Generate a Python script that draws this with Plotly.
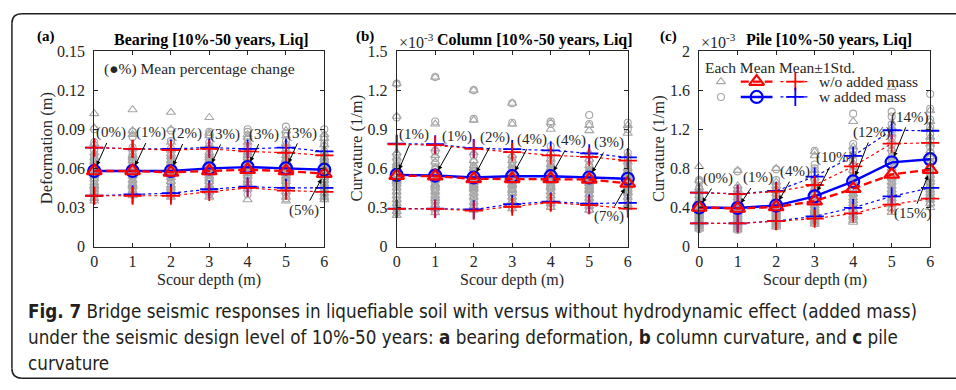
import plotly.graph_objects as go

W, H = 956, 390
depths = [0, 1, 2, 3, 4, 5, 6]

# ---------------- Panel (a) Bearing deformation (m) ----------------
a_mean_wo = [0.058, 0.058, 0.057, 0.058, 0.059, 0.058, 0.056]
a_mean_w = [0.058, 0.058, 0.058, 0.060, 0.061, 0.060, 0.059]
a_up_wo = [0.076, 0.075, 0.074, 0.075, 0.073, 0.072, 0.070]
a_up_w = [0.076, 0.075, 0.075, 0.076, 0.075, 0.076, 0.073]
a_lo_wo = [0.039, 0.039, 0.039, 0.042, 0.045, 0.043, 0.042]
a_lo_w = [0.039, 0.040, 0.041, 0.044, 0.046, 0.045, 0.045]
a_pct = ["(0%)", "(1%)", "(2%)", "(3%)", "(3%)", "(3%)", "(5%)"]
a_each_wo = [
    [0.102, 0.091, 0.079, 0.072, 0.068, 0.065, 0.062, 0.060, 0.058, 0.056, 0.054, 0.052, 0.049, 0.046, 0.044, 0.042, 0.040, 0.037, 0.035, 0.047],
    [0.105, 0.089, 0.086, 0.075, 0.070, 0.066, 0.063, 0.060, 0.058, 0.056, 0.054, 0.051, 0.048, 0.046, 0.043, 0.041, 0.039, 0.047, 0.062, 0.068],
    [0.103, 0.090, 0.080, 0.074, 0.069, 0.066, 0.063, 0.060, 0.057, 0.055, 0.053, 0.050, 0.047, 0.045, 0.043, 0.041, 0.038, 0.059, 0.064, 0.071],
    [0.099, 0.087, 0.085, 0.078, 0.072, 0.068, 0.064, 0.061, 0.058, 0.056, 0.054, 0.052, 0.050, 0.047, 0.045, 0.042, 0.038, 0.060, 0.066, 0.070],
    [0.086, 0.084, 0.080, 0.076, 0.072, 0.068, 0.065, 0.062, 0.060, 0.058, 0.056, 0.054, 0.051, 0.049, 0.046, 0.044, 0.036, 0.063, 0.070, 0.057],
    [0.089, 0.085, 0.079, 0.074, 0.070, 0.066, 0.063, 0.060, 0.058, 0.056, 0.054, 0.052, 0.050, 0.047, 0.045, 0.042, 0.035, 0.038, 0.061, 0.067],
    [0.086, 0.083, 0.078, 0.072, 0.068, 0.064, 0.061, 0.059, 0.057, 0.055, 0.053, 0.051, 0.048, 0.046, 0.044, 0.041, 0.038, 0.036, 0.060, 0.066],
]
a_each_w = [
    [0.090, 0.080, 0.074, 0.070, 0.066, 0.063, 0.061, 0.059, 0.057, 0.055, 0.053, 0.051, 0.048, 0.045, 0.043, 0.041, 0.038, 0.036, 0.062, 0.068],
    [0.088, 0.084, 0.076, 0.071, 0.067, 0.064, 0.061, 0.059, 0.057, 0.055, 0.053, 0.050, 0.047, 0.044, 0.042, 0.040, 0.060, 0.065, 0.069, 0.049],
    [0.089, 0.081, 0.075, 0.070, 0.067, 0.064, 0.061, 0.059, 0.057, 0.055, 0.053, 0.050, 0.048, 0.046, 0.043, 0.040, 0.039, 0.062, 0.066, 0.058],
    [0.088, 0.086, 0.080, 0.075, 0.071, 0.068, 0.065, 0.062, 0.060, 0.058, 0.056, 0.053, 0.050, 0.048, 0.045, 0.042, 0.040, 0.063, 0.067, 0.061],
    [0.090, 0.088, 0.082, 0.077, 0.073, 0.069, 0.066, 0.063, 0.061, 0.059, 0.057, 0.055, 0.052, 0.050, 0.047, 0.045, 0.040, 0.064, 0.071, 0.058],
    [0.092, 0.087, 0.081, 0.076, 0.071, 0.067, 0.064, 0.061, 0.059, 0.057, 0.055, 0.053, 0.051, 0.048, 0.046, 0.043, 0.037, 0.040, 0.062, 0.068],
    [0.090, 0.084, 0.079, 0.073, 0.069, 0.065, 0.062, 0.060, 0.058, 0.056, 0.054, 0.052, 0.049, 0.047, 0.045, 0.042, 0.039, 0.037, 0.061, 0.067],
]

# ---------------- Panel (b) Column curvature (x1e-3 1/m) ----------------
b_mean_wo = [0.545, 0.540, 0.520, 0.520, 0.520, 0.515, 0.485]
b_mean_w = [0.550, 0.545, 0.530, 0.540, 0.540, 0.530, 0.520]
b_up_wo = [0.785, 0.778, 0.750, 0.725, 0.700, 0.688, 0.660]
b_up_w = [0.790, 0.785, 0.755, 0.748, 0.738, 0.715, 0.685]
b_lo_wo = [0.290, 0.290, 0.276, 0.306, 0.338, 0.318, 0.292]
b_lo_w = [0.292, 0.292, 0.285, 0.326, 0.345, 0.330, 0.336]
b_pct = ["(1%)", "(1%)", "(2%)", "(4%)", "(4%)", "(3%)", "(7%)"]
b_each_wo = [
    [1.25, 1.00, 0.72, 0.68, 0.64, 0.60, 0.57, 0.54, 0.51, 0.48, 0.45, 0.42, 0.39, 0.36, 0.33, 0.30, 0.27, 0.24, 0.50, 0.62],
    [1.30, 0.94, 0.75, 0.70, 0.65, 0.60, 0.57, 0.54, 0.51, 0.48, 0.45, 0.42, 0.39, 0.35, 0.32, 0.29, 0.26, 0.55, 0.47, 0.37],
    [1.20, 0.97, 0.72, 0.66, 0.62, 0.58, 0.55, 0.52, 0.50, 0.47, 0.44, 0.41, 0.38, 0.34, 0.31, 0.28, 0.49, 0.53, 0.60, 0.45],
    [1.10, 0.94, 0.70, 0.66, 0.62, 0.59, 0.56, 0.53, 0.50, 0.47, 0.44, 0.41, 0.38, 0.35, 0.32, 0.29, 0.48, 0.52, 0.57, 0.43],
    [0.95, 0.90, 0.72, 0.67, 0.63, 0.60, 0.57, 0.54, 0.51, 0.48, 0.45, 0.42, 0.39, 0.36, 0.33, 0.30, 0.50, 0.55, 0.58, 0.46],
    [0.93, 0.89, 0.72, 0.67, 0.62, 0.58, 0.55, 0.52, 0.49, 0.46, 0.43, 0.40, 0.37, 0.34, 0.31, 0.28, 0.48, 0.51, 0.56, 0.44],
    [0.93, 0.87, 0.70, 0.65, 0.60, 0.56, 0.53, 0.50, 0.47, 0.44, 0.41, 0.38, 0.35, 0.32, 0.30, 0.46, 0.49, 0.52, 0.42, 0.58],
]
b_each_w = [
    [1.25, 0.99, 0.70, 0.66, 0.62, 0.59, 0.56, 0.53, 0.50, 0.47, 0.44, 0.41, 0.38, 0.35, 0.32, 0.29, 0.26, 0.55, 0.60, 0.48],
    [1.30, 0.96, 0.73, 0.68, 0.64, 0.60, 0.57, 0.54, 0.51, 0.48, 0.45, 0.42, 0.39, 0.36, 0.33, 0.30, 0.27, 0.55, 0.50, 0.43],
    [1.20, 0.98, 0.70, 0.65, 0.61, 0.58, 0.55, 0.52, 0.50, 0.47, 0.44, 0.41, 0.38, 0.35, 0.32, 0.29, 0.53, 0.57, 0.46, 0.49],
    [1.10, 0.95, 0.68, 0.65, 0.62, 0.59, 0.56, 0.53, 0.51, 0.48, 0.45, 0.42, 0.39, 0.36, 0.33, 0.30, 0.50, 0.55, 0.60, 0.44],
    [0.96, 0.94, 0.77, 0.68, 0.64, 0.61, 0.58, 0.55, 0.52, 0.49, 0.46, 0.43, 0.40, 0.37, 0.34, 0.31, 0.51, 0.56, 0.60, 0.47],
    [1.01, 0.94, 0.70, 0.66, 0.62, 0.59, 0.56, 0.53, 0.50, 0.47, 0.44, 0.41, 0.38, 0.35, 0.32, 0.28, 0.49, 0.52, 0.57, 0.45],
    [0.95, 0.90, 0.72, 0.66, 0.62, 0.58, 0.55, 0.52, 0.49, 0.46, 0.43, 0.40, 0.37, 0.34, 0.31, 0.48, 0.51, 0.54, 0.44, 0.60],
]

# ---------------- Panel (c) Pile curvature (x1e-3 1/m) ----------------
c_mean_wo = [0.400, 0.390, 0.405, 0.465, 0.592, 0.738, 0.787]
c_mean_w = [0.400, 0.395, 0.420, 0.514, 0.667, 0.862, 0.894]
c_up_wo = [0.553, 0.537, 0.563, 0.630, 0.820, 1.054, 1.060]
c_up_w = [0.553, 0.540, 0.570, 0.715, 0.927, 1.190, 1.185]
c_lo_wo = [0.237, 0.237, 0.260, 0.286, 0.340, 0.430, 0.490]
c_lo_w = [0.237, 0.237, 0.262, 0.310, 0.397, 0.514, 0.600]
c_pct = ["(0%)", "(1%)", "(4%)", "(10%)", "(12%)", "(14%)", "(15%)"]
c_each_wo = [
    [0.82, 0.68, 0.60, 0.56, 0.52, 0.48, 0.45, 0.42, 0.40, 0.38, 0.36, 0.34, 0.32, 0.30, 0.28, 0.26, 0.24, 0.22, 0.20, 0.18],
    [0.78, 0.62, 0.58, 0.54, 0.50, 0.47, 0.44, 0.41, 0.39, 0.37, 0.35, 0.33, 0.31, 0.29, 0.27, 0.25, 0.23, 0.21, 0.19, 0.17],
    [0.80, 0.66, 0.62, 0.58, 0.54, 0.50, 0.47, 0.44, 0.42, 0.40, 0.38, 0.36, 0.34, 0.32, 0.30, 0.28, 0.26, 0.24, 0.22, 0.20],
    [0.97, 0.93, 0.78, 0.70, 0.64, 0.59, 0.55, 0.51, 0.48, 0.45, 0.42, 0.39, 0.37, 0.35, 0.33, 0.31, 0.29, 0.27, 0.25, 0.23],
    [1.28, 1.02, 0.94, 0.85, 0.78, 0.72, 0.67, 0.62, 0.58, 0.54, 0.50, 0.47, 0.44, 0.41, 0.38, 0.35, 0.32, 0.30, 0.27, 0.25],
    [1.63, 1.22, 1.15, 1.08, 1.00, 0.93, 0.86, 0.80, 0.75, 0.70, 0.66, 0.62, 0.58, 0.55, 0.52, 0.49, 0.46, 0.43, 0.39, 0.35],
    [1.39, 1.28, 1.20, 1.12, 1.05, 0.98, 0.92, 0.86, 0.81, 0.77, 0.73, 0.69, 0.66, 0.62, 0.58, 0.55, 0.52, 0.48, 0.44, 0.40],
]
c_each_w = [
    [0.68, 0.66, 0.60, 0.56, 0.52, 0.48, 0.45, 0.42, 0.40, 0.38, 0.36, 0.34, 0.32, 0.30, 0.28, 0.26, 0.24, 0.22, 0.20, 0.18],
    [0.77, 0.60, 0.57, 0.53, 0.50, 0.47, 0.44, 0.41, 0.39, 0.37, 0.35, 0.33, 0.31, 0.29, 0.27, 0.25, 0.23, 0.21, 0.19, 0.17],
    [0.79, 0.68, 0.62, 0.58, 0.54, 0.51, 0.48, 0.45, 0.43, 0.41, 0.39, 0.37, 0.35, 0.33, 0.31, 0.29, 0.27, 0.25, 0.23, 0.21],
    [0.98, 0.84, 0.80, 0.74, 0.68, 0.63, 0.59, 0.55, 0.52, 0.49, 0.46, 0.43, 0.41, 0.39, 0.37, 0.35, 0.32, 0.29, 0.27, 0.24],
    [1.36, 1.05, 0.99, 0.94, 0.88, 0.82, 0.77, 0.72, 0.68, 0.64, 0.60, 0.57, 0.54, 0.51, 0.48, 0.45, 0.41, 0.37, 0.33, 0.28],
    [1.38, 1.33, 1.25, 1.18, 1.11, 1.04, 0.98, 0.92, 0.87, 0.82, 0.78, 0.74, 0.70, 0.66, 0.62, 0.58, 0.54, 0.50, 0.45, 0.40],
    [1.56, 1.41, 1.30, 1.22, 1.15, 1.08, 1.02, 0.96, 0.91, 0.86, 0.82, 0.78, 0.74, 0.70, 0.66, 0.62, 0.58, 0.54, 0.49, 0.44],
]

titles = ["Bearing [10%-50 years, Liq]", "Column [10%-50 years, Liq]", "Pile [10%-50 years, Liq]"]
ytitles = ["Deformation (m)", "Curvature (1/m)", "Curvature (1/m)"]
panel_labels = ["(a)", "(b)", "(c)"]
xtitle = "Scour depth (m)"
legend_header = "Each Mean Mean\u00b11Std."
legend_labels = ["w/o added mass", "w added mass"]
caption_lines = [
    "<b>Fig. 7</b> Bridge seismic responses in liquefiable soil with versus without hydrodynamic effect (added mass)",
    "under the seismic design level of 10%-50 years: <b>a</b> bearing deformation, <b>b</b> column curvature, and <b>c</b> pile",
    "curvature",
]

# ---------------- styling ----------------
SERIF = "Liberation Serif, Times New Roman, serif"
CAPF = "DejaVu Sans Condensed, Open Sans, sans-serif"
TXT = "#262626"
GRAY = "#a6a6a6"
RED = "#ff0000"
BLUE = "#0000ff"


def px(x):
    return x / W


def py(y):
    return 1 - y / H


panel_x = [(91, 323), (396, 629), (701, 934)]
ptop, pbot = 45, 249.5
yranges = [[0, 0.15], [0, 1.5], [0, 2.0]]
ydticks = [0.03, 0.3, 0.4]

panels = [
    (a_mean_wo, a_mean_w, a_up_wo, a_up_w, a_lo_wo, a_lo_w, a_each_wo, a_each_w, a_pct),
    (b_mean_wo, b_mean_w, b_up_wo, b_up_w, b_lo_wo, b_lo_w, b_each_wo, b_each_w, b_pct),
    (c_mean_wo, c_mean_w, c_up_wo, c_up_w, c_lo_wo, c_lo_w, c_each_wo, c_each_w, c_pct),
]

# annotation arrow offsets (pixels, text relative to the point) and target series
arrow_cfg = [
    [(17, -38, "w"), (18, -38, "w"), (16, -37, "w"), (16, -34, "w"), (16, -33, "w"), (16, -35, "w"), (-20, 37, "wo")],
    [(17, -40, "w"), (22, -39, "w"), (21, -40, "w"), (20, -37, "w"), (20, -36, "w"), (20, -35, "w"), (-19, 33, "wo")],
    [(19, -29, "w"), (20, -30, "w"), (19, -34, "w"), (20, -39, "w"), (19, -49, "w"), (18, -45, "w"), (-17, 44, "wo")],
]

fig = go.Figure()
layout = dict(
    width=W, height=H, autosize=False,
    margin=dict(l=0, r=0, t=0, b=0),
    paper_bgcolor="white", plot_bgcolor="rgba(0,0,0,0)",
    showlegend=False,
)
annotations = []
shapes = []

for i, (m_wo, m_w, u_wo, u_w, l_wo, l_w, e_wo, e_w, pct) in enumerate(panels):
    sfx = "" if i == 0 else str(i + 1)
    xa, ya = "x" + sfx, "y" + sfx
    x0, x1 = panel_x[i]
    ex_wo, ey_wo, ex_w, ey_w = [], [], [], []
    for d, vals in zip(depths, e_wo):
        ex_wo += [d] * len(vals)
        ey_wo += vals
    for d, vals in zip(depths, e_w):
        ex_w += [d] * len(vals)
        ey_w += vals
    fig.add_trace(go.Scatter(x=ex_wo, y=ey_wo, mode="markers", xaxis=xa, yaxis=ya, cliponaxis=False,
                             marker=dict(symbol="triangle-up-open", size=8, color=GRAY, line=dict(width=1.1, color=GRAY))))
    fig.add_trace(go.Scatter(x=ex_w, y=ey_w, mode="markers", xaxis=xa, yaxis=ya, cliponaxis=False,
                             marker=dict(symbol="circle-open", size=7, color=GRAY, line=dict(width=1.1, color=GRAY))))
    for ser, col in ((u_w, BLUE), (l_w, BLUE), (u_wo, RED), (l_wo, RED)):
        fig.add_trace(go.Scatter(x=depths, y=ser, mode="lines+markers", xaxis=xa, yaxis=ya, cliponaxis=False,
                                 line=dict(color=col, width=1.2, dash="dot"),
                                 marker=dict(symbol="cross-thin-open", size=13, color=col, line=dict(width=1.8, color=col))))
    fig.add_trace(go.Scatter(x=depths, y=m_w, mode="lines+markers", xaxis=xa, yaxis=ya, cliponaxis=False,
                             line=dict(color=BLUE, width=2.4),
                             marker=dict(symbol="circle-open", size=12, color=BLUE, line=dict(width=2.2, color=BLUE))))
    fig.add_trace(go.Scatter(x=depths, y=m_wo, mode="lines+markers", xaxis=xa, yaxis=ya, cliponaxis=False,
                             line=dict(color=RED, width=2.4, dash="8px,4px"),
                             marker=dict(symbol="triangle-up-open", size=13, color=RED, line=dict(width=2.2, color=RED))))

    axis_common = dict(showline=True, linecolor=TXT, linewidth=1, mirror="ticks", ticks="inside",
                       ticklen=4, tickcolor=TXT, showgrid=False, zeroline=False,
                       tickfont=dict(family=SERIF, size=16, color=TXT))
    layout["xaxis" + sfx] = dict(domain=[px(x0), px(x1)], range=[0, 6], dtick=1, tick0=0, anchor=ya,
                                 ticklabelstandoff=0, **axis_common)
    layout["yaxis" + sfx] = dict(domain=[py(pbot), py(ptop)], range=yranges[i], dtick=ydticks[i], tick0=0,
                                 anchor=xa, ticklabelstandoff=5, **axis_common)

    for j, d in enumerate(depths):
        ax_, ay_, tgt = arrow_cfg[i][j]
        yv = m_w[j] if tgt == "w" else m_wo[j]
        annotations.append(dict(x=d, y=yv, xref=xa, yref=ya, text=pct[j], showarrow=True,
                                ax=ax_, ay=ay_, arrowhead=2, arrowsize=0.9, arrowwidth=1, arrowcolor="black",
                                standoff=6, startstandoff=0,
                                font=dict(family=SERIF, size=15, color=TXT)))

    tcx = {0: 209, 1: 535, 2: 832}[i]
    annotations.append(dict(x=px(tcx), y=py(33), xref="paper", yref="paper", text="<b>" + titles[i] + "</b>",
                            showarrow=False, xanchor="center", yanchor="middle",
                            font=dict(family=SERIF, size=16, color="black")))
    lx = {0: 42, 1: 364, 2: 670}[i]
    annotations.append(dict(x=px(lx), y=py(30), xref="paper", yref="paper", text="<b>" + panel_labels[i] + "</b>",
                            showarrow=False, xanchor="center", yanchor="middle",
                            font=dict(family=SERIF, size=15, color="black")))
    ytx = {0: 43, 1: 356, 2: 660}[i]
    annotations.append(dict(x=px(ytx), y=py(147), xref="paper", yref="paper", text=ytitles[i], textangle=-90,
                            showarrow=False, xanchor="center", yanchor="middle",
                            font=dict(family=SERIF, size=16.5, color=TXT)))
    annotations.append(dict(x=px((x0 + x1) / 2), y=py(284), xref="paper", yref="paper", text=xtitle,
                            showarrow=False, xanchor="center", yanchor="middle",
                            font=dict(family=SERIF, size=16, color=TXT)))
    if i > 0:
        annotations.append(dict(x=px(x0), y=py(35), xref="paper", yref="paper", text="\u00d710<sup>-3</sup>",
                                showarrow=False, xanchor="left", yanchor="middle",
                                font=dict(family=SERIF, size=16, color=TXT)))

annotations.append(dict(x=px(99), y=py(64), xref="paper", yref="paper", text="(\u25cf%) Mean percentage change",
                        showarrow=False, xanchor="left", yanchor="middle",
                        font=dict(family=SERIF, size=15.5, color=TXT)))

# ---------------- legend in panel (c), on an overlay pixel axis ----------------
lx0, lx1 = panel_x[2]
layout["xaxis4"] = dict(domain=[px(lx0), px(lx1)], range=[0, lx1 - lx0], visible=False, anchor="y4")
layout["yaxis4"] = dict(domain=[py(pbot), py(ptop)], range=[pbot - ptop, 0], visible=False, anchor="x4")
rows = [(32, RED, "triangle-up-open", "8px,4px", "triangle-up-open", 8),
        (48, BLUE, "circle-open", "solid", "circle-open", 7)]
for (ry, col, msym, dash, gsym, gsize), lab in zip(rows, legend_labels):
    fig.add_trace(go.Scatter(x=[22], y=[ry], mode="markers", xaxis="x4", yaxis="y4",
                             marker=dict(symbol=gsym, size=gsize, color=GRAY, line=dict(width=1.1, color=GRAY))))
    fig.add_trace(go.Scatter(x=[42, 74], y=[ry, ry], mode="lines", xaxis="x4", yaxis="y4",
                             line=dict(color=col, width=2.4, dash=dash)))
    fig.add_trace(go.Scatter(x=[58], y=[ry], mode="markers", xaxis="x4", yaxis="y4",
                             marker=dict(symbol=msym, size=13 if "tri" in msym else 12, color=col,
                                         line=dict(width=2.2, color=col))))
    fig.add_trace(go.Scatter(x=[82, 112], y=[ry, ry], mode="lines", xaxis="x4", yaxis="y4",
                             line=dict(color=col, width=1.2, dash="dot")))
    fig.add_trace(go.Scatter(x=[97], y=[ry], mode="markers", xaxis="x4", yaxis="y4",
                             marker=dict(symbol="cross-thin-open", size=13, color=col, line=dict(width=1.8, color=col))))
    annotations.append(dict(x=119, y=ry, xref="x4", yref="y4", text=lab, showarrow=False,
                            xanchor="left", yanchor="middle", font=dict(family=SERIF, size=15.5, color=TXT)))
annotations.append(dict(x=4, y=17, xref="x4", yref="y4", text=legend_header, showarrow=False,
                        xanchor="left", yanchor="middle", font=dict(family=SERIF, size=15.5, color=TXT)))

# ---------------- caption ----------------
for line, yy in zip(caption_lines, [317, 345, 372]):
    annotations.append(dict(x=px(22), y=py(yy), xref="paper", yref="paper", text=line, showarrow=False,
                            xanchor="left", yanchor="middle", font=dict(family=CAPF, size=18.7, color="#231f20")))

# rounded frame (open on the right: continues beyond the picture)
r = 10
L, T, B = 8, 6, 387
FR = dict(color="#231f20", width=1.5)
shapes.append(dict(type="line", xref="paper", yref="paper", x0=px(L + r), x1=px(W + 5), y0=py(T), y1=py(T), line=FR))
shapes.append(dict(type="line", xref="paper", yref="paper", x0=px(L + r), x1=px(W + 5), y0=py(B), y1=py(B), line=FR))
shapes.append(dict(type="line", xref="paper", yref="paper", x0=px(L), x1=px(L), y0=py(T + r), y1=py(B - r), line=FR))
shapes.append(dict(type="path", xref="paper", yref="paper",
                   path=f"M {px(L)},{py(T + r)} Q {px(L)},{py(T)} {px(L + r)},{py(T)}", line=FR))
shapes.append(dict(type="path", xref="paper", yref="paper",
                   path=f"M {px(L)},{py(B - r)} Q {px(L)},{py(B)} {px(L + r)},{py(B)}", line=FR))

layout["annotations"] = annotations
layout["shapes"] = shapes
fig.update_layout(**layout)
fig.write_html("out.html")
